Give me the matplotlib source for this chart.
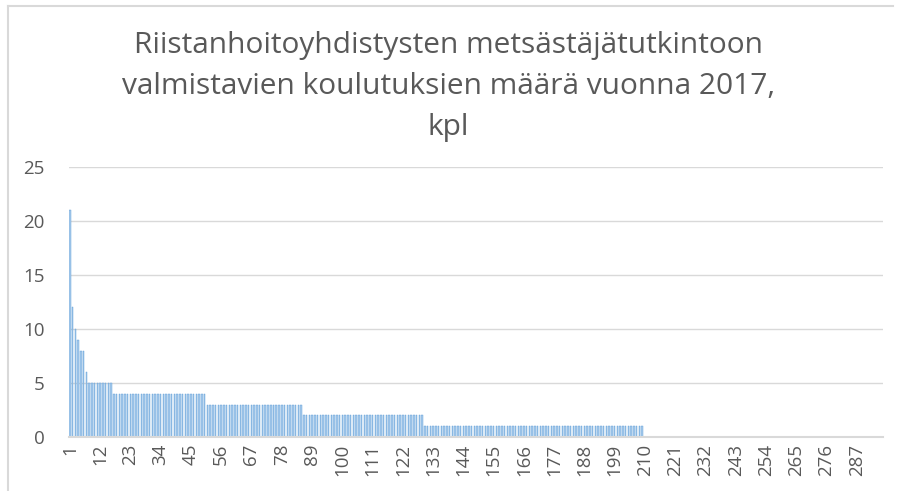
import matplotlib.pyplot as plt
from matplotlib.lines import Line2D

# koulutusten määrä per RHY, järjestettynä suurimmasta pienimpään
values = [
    21, 12, 10, 9, 8, 8, 6,
    5, 5, 5, 5, 5, 5, 5, 5, 5,
    4, 4, 4, 4, 4, 4, 4, 4, 4, 4, 4, 4, 4, 4, 4, 4, 4,
    4, 4, 4, 4, 4, 4, 4, 4, 4, 4, 4, 4, 4, 4, 4, 4, 4,
    3, 3, 3, 3, 3, 3, 3, 3, 3, 3, 3, 3, 3, 3, 3, 3, 3, 3,
    3, 3, 3, 3, 3, 3, 3, 3, 3, 3, 3, 3, 3, 3, 3, 3, 3,
    2, 2, 2, 2, 2, 2, 2, 2, 2, 2, 2, 2, 2, 2, 2, 2, 2, 2, 2, 2, 2, 2,
    2, 2, 2, 2, 2, 2, 2, 2, 2, 2, 2, 2, 2, 2, 2, 2, 2, 2, 2, 2, 2, 2,
    1, 1, 1, 1, 1, 1, 1, 1, 1, 1, 1, 1, 1, 1, 1, 1, 1, 1, 1, 1,
    1, 1, 1, 1, 1, 1, 1, 1, 1, 1, 1, 1, 1, 1, 1, 1, 1, 1, 1, 1,
    1, 1, 1, 1, 1, 1, 1, 1, 1, 1, 1, 1, 1, 1, 1, 1, 1, 1, 1, 1,
    1, 1, 1, 1, 1, 1, 1, 1, 1, 1, 1, 1, 1, 1, 1, 1, 1, 1, 1, 1,
    0, 0, 0, 0, 0, 0, 0, 0, 0, 0, 0, 0, 0, 0, 0, 0, 0, 0, 0, 0, 0, 0,
    0, 0, 0, 0, 0, 0, 0, 0, 0, 0, 0, 0, 0, 0, 0, 0, 0, 0, 0, 0, 0, 0,
    0, 0, 0, 0, 0, 0, 0, 0, 0, 0, 0, 0, 0, 0, 0, 0, 0, 0, 0, 0, 0, 0,
    0, 0, 0, 0, 0, 0, 0, 0, 0, 0, 0, 0, 0, 0, 0, 0, 0, 0, 0, 0, 0,
]
categories = list(range(1, len(values) + 1))
xtick_labels = categories[::11]
yticks = [0, 5, 10, 15, 20, 25]
title = ("Riistanhoitoyhdistysten metsästäjätutkintoon\n"
         "valmistavien koulutuksien määrä vuonna 2017,\nkpl")

plt.rcParams['font.family'] = ['Open Sans', 'DejaVu Sans']

fig = plt.figure(figsize=(8.97, 4.91), dpi=100)
ax = fig.add_axes([68.5 / 897, 54 / 491, (883 - 68.5) / 897, (437 - 167) / 491])

ax.bar(categories, values, width=0.55, color='#a9cbec', edgecolor='#5b9bd5',
       linewidth=0.3, zorder=3)

ax.set_xlim(0.5, len(values) + 0.5)
ax.set_ylim(0, 25)
ax.set_yticks(yticks)
ax.set_xticks(xtick_labels)
ax.set_xticklabels([str(c) for c in xtick_labels], rotation=90)
ax.tick_params(axis='both', length=0, labelsize=13.5, labelcolor='#595959')
ax.tick_params(axis='y', pad=17)
ax.tick_params(axis='x', pad=5)
ax.grid(axis='y', color='#d9d9d9', linewidth=1, zorder=0)
for s in ['top', 'right', 'left']:
    ax.spines[s].set_visible(False)
ax.spines['bottom'].set_color('#d9d9d9')
ax.spines['bottom'].set_linewidth(1.5)
ax.spines['bottom'].set_zorder(4)

fig.text(0.5, 1 - 31 / 491, title, ha='center', va='top', fontsize=21.5,
         color='#595959', linespacing=1.55)

# reunaviivat (kuvakaappauksen kehys)
fig.add_artist(Line2D([8 / 897, 893 / 897], [1 - 6 / 491, 1 - 6 / 491],
                      color='#d9d9d9', linewidth=1.5))
fig.add_artist(Line2D([8 / 897, 8 / 897], [1 - 6 / 491, 0],
                      color='#d9d9d9', linewidth=1.5))

fig.savefig('out.png', dpi=100)
